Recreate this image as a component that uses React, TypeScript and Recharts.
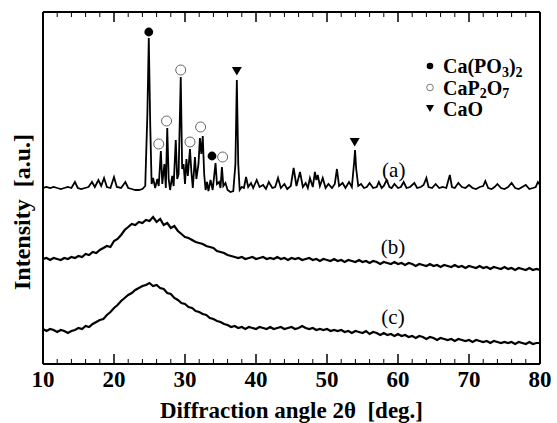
import React from 'react';
import { ComposedChart, Line, Scatter, XAxis, YAxis, Label, ReferenceLine } from 'recharts';

// ---- ticks ----
const X_MAJOR = [10, 20, 30, 40, 50, 60, 70, 80];
const X_MINOR = [12, 14, 16, 18, 22, 24, 26, 28, 32, 34, 36, 38, 42, 44, 46, 48, 52, 54, 56, 58, 62, 64, 66, 68, 72, 74, 76, 78];

// ---- pattern (a): crystalline, [2θ, intensity] ----
const patternA: [number, number][] = [
  [10.0, 176], [10.5, 177], [11.0, 176], [11.5, 177], [12.0, 176], [12.5, 175], [13.0, 176], [13.5, 177], [14.0, 176],
  [14.5, 182], [14.9, 176], [15.4, 175], [15.9, 176], [16.4, 177], [16.9, 182], [17.3, 177], [17.8, 184], [18.2, 178],
  [18.6, 186], [19.0, 177], [19.5, 176], [20.0, 187], [20.4, 177], [21.0, 176], [21.6, 182], [22.0, 176], [22.5, 175],
  [23.0, 174], [23.5, 174], [24.0, 175], [24.4, 178], [24.7, 250], [24.9, 326], [25.1, 240], [25.3, 180], [25.5, 186],
  [25.8, 176], [26.1, 185], [26.3, 178], [26.6, 213], [26.8, 180], [27.1, 200], [27.3, 176], [27.5, 236], [27.7, 185],
  [27.9, 174], [28.2, 188], [28.4, 178], [28.7, 224], [28.9, 185], [29.1, 190], [29.4, 287], [29.6, 195], [29.8, 200],
  [30.0, 180], [30.2, 205], [30.4, 188], [30.7, 215], [30.9, 192], [31.1, 176], [31.4, 207], [31.6, 185], [31.9, 200],
  [32.1, 226], [32.3, 210], [32.5, 228], [32.7, 190], [32.9, 174], [33.1, 182], [33.3, 173], [33.6, 184], [33.9, 174],
  [34.3, 201], [34.5, 180], [34.8, 182], [35.0, 176], [35.2, 197], [35.4, 178], [35.7, 181], [36.0, 174], [36.4, 172],
  [36.8, 173], [37.1, 200], [37.3, 284], [37.5, 200], [37.7, 174], [38.0, 177], [38.3, 176], [38.6, 187], [38.9, 177],
  [39.3, 181], [39.6, 176], [40.1, 184], [40.5, 177], [41.0, 179], [41.4, 175], [41.8, 182], [42.3, 176], [42.7, 177],
  [43.1, 186], [43.5, 176], [44.0, 180], [44.4, 175], [44.9, 178], [45.3, 196], [45.7, 178], [46.2, 192], [46.6, 177],
  [47.0, 181], [47.3, 176], [47.6, 186], [48.0, 177], [48.3, 192], [48.5, 184], [48.7, 189], [49.0, 178], [49.4, 186],
  [49.8, 176], [50.2, 180], [50.7, 176], [51.1, 180], [51.4, 195], [51.7, 178], [52.2, 181], [52.6, 176], [53.1, 182],
  [53.5, 177], [53.8, 200], [53.95, 214], [54.1, 196], [54.4, 178], [54.8, 180], [55.2, 176], [55.6, 177], [56.0, 181],
  [56.5, 176], [57.0, 177], [57.3, 182], [57.7, 176], [58.0, 178], [58.4, 184], [58.8, 177], [59.1, 176], [59.5, 180],
  [60.0, 176], [60.4, 177], [60.8, 182], [61.2, 176], [61.7, 177], [62.3, 181], [62.7, 176], [63.2, 177], [63.6, 179],
  [64.0, 186], [64.3, 177], [64.8, 176], [65.3, 180], [65.8, 176], [66.3, 177], [66.8, 176], [67.3, 189], [67.6, 177],
  [68.0, 176], [68.5, 181], [69.0, 177], [69.5, 176], [70.0, 179], [70.5, 176], [71.0, 175], [71.5, 177], [72.0, 178],
  [72.3, 183], [72.7, 176], [73.2, 175], [73.6, 177], [74.0, 180], [74.5, 176], [75.0, 175], [75.5, 177], [76.0, 181],
  [76.5, 176], [77.0, 175], [77.5, 177], [78.0, 179], [78.5, 175], [79.0, 176], [79.4, 177], [79.7, 182], [80.0, 179],
];

// ---- patterns (b) and (c): amorphous, sampled every 0.5° from 10 to 80 ----
const anglesBC: number[] = Array.from({ length: 141 }, (_, i) => 10 + i * 0.5);
const intensityB = [
  105, 106, 104, 106, 105, 104, 106, 105, 107, 106, 108, 107, 110, 109, 112, 111, 114, 116, 118, 117,
  123, 125, 129, 134, 137, 140, 139, 142, 141, 144, 143, 147, 142, 145, 139, 141, 136, 138, 133, 130,
  127, 126, 124, 122, 121, 120, 118, 117, 116, 113, 112, 111, 109, 108, 107, 106, 107, 105, 106, 107,
  105, 106, 107, 105, 106, 105, 107, 105, 106, 104, 106, 105, 106, 104, 105, 106, 104, 105, 103, 105,
  104, 103, 105, 103, 104, 102, 104, 103, 102, 104, 102, 103, 101, 103, 102, 100, 102, 101, 100, 102,
  100, 101, 99, 101, 100, 98, 100, 99, 98, 100, 98, 99, 97, 99, 98, 97, 99, 97, 98, 96,
  98, 97, 96, 98, 96, 97, 95, 97, 96, 95, 97, 95, 96, 94, 96, 95, 94, 96, 94, 95, 94,
];
const intensityC = [
  35, 33, 35, 34, 32, 34, 33, 31, 33, 34, 36, 35, 38, 37, 40, 42, 44, 45, 49, 52,
  56, 59, 63, 66, 69, 71, 74, 76, 78, 79, 81, 78, 79, 76, 75, 71, 70, 66, 64, 61,
  60, 57, 56, 53, 52, 50, 49, 46, 45, 43, 42, 40, 39, 37, 38, 36, 37, 35, 37, 36,
  35, 37, 36, 35, 37, 35, 36, 37, 35, 36, 37, 35, 36, 38, 36, 35, 36, 34, 35, 34,
  35, 33, 34, 33, 34, 32, 33, 31, 33, 32, 31, 33, 30, 32, 31, 29, 31, 29, 30, 28,
  30, 28, 29, 27, 28, 26, 28, 27, 25, 27, 26, 24, 26, 25, 24, 25, 23, 25, 24, 23,
  24, 22, 24, 23, 22, 23, 21, 23, 22, 21, 22, 21, 22, 20, 22, 21, 20, 22, 20, 21, 21,
];

// ---- phase markers [2θ, height] ----
const markCaPO3: [number, number][] = [[24.9, 332], [33.8, 208]];
const markCaP2O7: [number, number][] = [[26.3, 220], [27.4, 243], [29.4, 294], [30.7, 222], [32.2, 237], [35.3, 207]];
const markCaO: [number, number][] = [[37.3, 293], [53.9, 222]];

// ---- curve labels ----
const curveLabels: { x: number; y: number; label: string }[] = [
  { x: 59.4, y: 194, label: '(a)' },
  { x: 59.3, y: 117, label: '(b)' },
  { x: 59.3, y: 47, label: '(c)' },
];

const dataA = patternA.map(([x, y]) => ({ x, y }));
const dataB = anglesBC.map((x, i) => ({ x, y: intensityB[i] }));
const dataC = anglesBC.map((x, i) => ({ x, y: intensityC[i] }));
const toPts = (arr: [number, number][]) => arr.map(([x, y]) => ({ x, y }));

const FONT = '"Liberation Serif", "Times New Roman", serif';

const FilledDot = (p: any) => <circle cx={p.cx} cy={p.cy} r={4.4} fill="#000" />;
const OpenDot = (p: any) => <circle cx={p.cx} cy={p.cy} r={5} fill="#fff" stroke="#666" strokeWidth={1} />;
const Tri = (p: any) => (
  <path d={`M${p.cx - 5},${p.cy - 4} L${p.cx + 5},${p.cy - 4} L${p.cx},${p.cy + 4.5} Z`} fill="#000" />
);
const TextMark = (p: any) => (
  <text x={p.cx} y={p.cy} textAnchor="middle" dominantBaseline="central" fontFamily={FONT} fontSize={21} fill="#000">
    {p.payload.label}
  </text>
);

const DOMAIN_X: [number, number] = [10, 80];
const Y_MAX = 352;
const DOMAIN_Y: [number, number] = [0, Y_MAX];
const MAJOR_LEN = 10; // in y-units (1 unit = 1px here)
const MINOR_LEN = 5;

export default function App() {
  const tickLines: React.ReactNode[] = [];
  X_MAJOR.forEach((t) => {
    tickLines.push(
      <ReferenceLine key={`bM${t}`} xAxisId="x" yAxisId="y" segment={[{ x: t, y: 0 }, { x: t, y: MAJOR_LEN }]} stroke="#000" strokeWidth={1.5} />,
      <ReferenceLine key={`tM${t}`} xAxisId="x" yAxisId="y" segment={[{ x: t, y: Y_MAX }, { x: t, y: Y_MAX - MAJOR_LEN }]} stroke="#000" strokeWidth={1.5} />
    );
  });
  X_MINOR.forEach((t) => {
    tickLines.push(
      <ReferenceLine key={`bm${t}`} xAxisId="x" yAxisId="y" segment={[{ x: t, y: 0 }, { x: t, y: MINOR_LEN }]} stroke="#000" strokeWidth={1} />,
      <ReferenceLine key={`tm${t}`} xAxisId="x" yAxisId="y" segment={[{ x: t, y: Y_MAX }, { x: t, y: Y_MAX - MINOR_LEN }]} stroke="#000" strokeWidth={1} />
    );
  });

  return (
    <div style={{ position: 'absolute', left: 0, top: 0, width: 557, height: 423, background: '#fff' }}>
      <ComposedChart width={557} height={423} margin={{ top: 12, right: 17, bottom: 0, left: 0 }}>
        <XAxis
          xAxisId="x"
          dataKey="x"
          type="number"
          domain={DOMAIN_X}
          allowDataOverflow
          ticks={X_MAJOR}
          height={59}
          tickLine={false}
          tickSize={0}
          tickMargin={7}
          axisLine={{ stroke: '#000', strokeWidth: 2 }}
          tick={{ fontFamily: FONT, fontSize: 23, fontWeight: 'bold', fill: '#000' }}
          interval={0}
        >
          <Label
            content={(props: any) => {
              const vb = props.viewBox;
              return (
                <text x={vb.x + vb.width / 2} y={418} textAnchor="middle" fontFamily={FONT} fontSize={23} fontWeight="bold" fill="#000" style={{ whiteSpace: 'pre' }}>
                  {'Diffraction angle 2θ  [deg.]'}
                </text>
              );
            }}
          />
        </XAxis>
        <YAxis
          yAxisId="y"
          type="number"
          domain={DOMAIN_Y}
          allowDataOverflow
          width={43}
          tick={false}
          tickLine={false}
          axisLine={{ stroke: '#000', strokeWidth: 2 }}
        >
          <Label
            content={(props: any) => {
              const vb = props.viewBox;
              const cx = vb.x + 22;
              const cy = 212;
              return (
                <text x={cx} y={cy} transform={`rotate(-90, ${cx}, ${cy})`} textAnchor="middle" dominantBaseline="central" fontFamily={FONT} fontSize={24} fontWeight="bold" fill="#000" style={{ whiteSpace: 'pre' }}>
                  {'Intensity  [a.u.]'}
                </text>
              );
            }}
          />
        </YAxis>

        <ReferenceLine xAxisId="x" yAxisId="y" y={Y_MAX} stroke="#000" strokeWidth={2} />
        <ReferenceLine xAxisId="x" yAxisId="y" x={80} stroke="#000" strokeWidth={2} />
        {tickLines}

        <Line xAxisId="x" yAxisId="y" data={dataA} dataKey="y" type="linear" dot={false} stroke="#000" strokeWidth={1.8} isAnimationActive={false} />
        <Line xAxisId="x" yAxisId="y" data={dataB} dataKey="y" type="linear" dot={false} stroke="#000" strokeWidth={2.2} isAnimationActive={false} />
        <Line xAxisId="x" yAxisId="y" data={dataC} dataKey="y" type="linear" dot={false} stroke="#000" strokeWidth={2.2} isAnimationActive={false} />

        <Scatter xAxisId="x" yAxisId="y" data={toPts(markCaPO3)} dataKey="y" shape={FilledDot} isAnimationActive={false} />
        <Scatter xAxisId="x" yAxisId="y" data={toPts(markCaP2O7)} dataKey="y" shape={OpenDot} isAnimationActive={false} />
        <Scatter xAxisId="x" yAxisId="y" data={toPts(markCaO)} dataKey="y" shape={Tri} isAnimationActive={false} />
        <Scatter xAxisId="x" yAxisId="y" data={curveLabels} dataKey="y" shape={TextMark} isAnimationActive={false} />
      </ComposedChart>

      <svg width={557} height={423} style={{ position: 'absolute', left: 0, top: 0, pointerEvents: 'none' }}>
        <g fontFamily={FONT} fontWeight="bold" fontSize={20} fill="#000">
          <circle cx={430} cy={66} r={3.3} fill="#000" />
          <text x={443} y={73}>
            Ca(PO<tspan dy={3.5} fontSize={14}>3</tspan><tspan dy={-3.5}>)</tspan><tspan dy={3.5} fontSize={14}>2</tspan>
          </text>
          <circle cx={430} cy={87.5} r={3.3} fill="#fff" stroke="#777" strokeWidth={1} />
          <text x={443} y={94.5}>
            CaP<tspan dy={3.5} fontSize={14}>2</tspan><tspan dy={-3.5}>O</tspan><tspan dy={3.5} fontSize={14}>7</tspan>
          </text>
          <path d="M426,105 L434,105 L430,112 Z" fill="#000" />
          <text x={443} y={116}>CaO</text>
        </g>
      </svg>
    </div>
  );
}
